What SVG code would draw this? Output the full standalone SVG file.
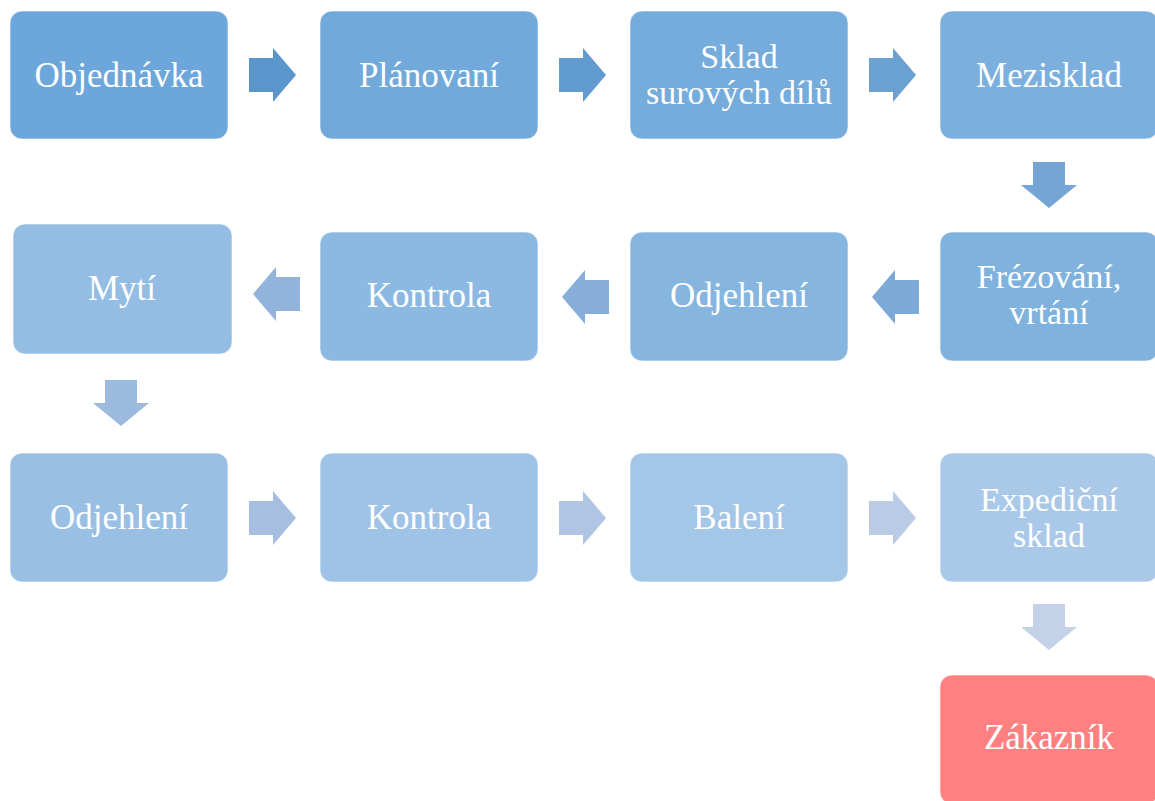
<svg xmlns="http://www.w3.org/2000/svg" width="1155" height="801" viewBox="0 0 1155 801">
  <style>
    .box { stroke: #ffffff; stroke-width: 1; stroke-opacity: 0.6; }
    .lbl { font-family: "Liberation Serif", "Times New Roman", serif; font-size: 35px; fill: #ffffff; text-anchor: middle; }
    .lbl2 { font-family: "Liberation Serif", "Times New Roman", serif; font-size: 34px; fill: #ffffff; text-anchor: middle; }
  </style>
  <defs>
    <!-- block arrow shapes, placed at tail position / centre line -->
    <polygon id="arrR" points="0,-17 24,-17 24,-27 47,0 24,27 24,17 0,17"/>
    <polygon id="arrL" points="0,-17 -24,-17 -24,-27 -47,0 -24,27 -24,17 0,17"/>
    <polygon id="arrD" points="-16,0 16,0 16,23 28,23 0,46 -28,23 -16,23"/>
  </defs>
  <rect width="1155" height="801" fill="#ffffff"/>

  <!-- connectors -->
  <g id="connectors">
    <use href="#arrR" x="249" y="75" fill="#5A96CC"/>
    <use href="#arrR" x="559" y="75" fill="#629BCF"/>
    <use href="#arrR" x="869" y="75" fill="#6AA0D2"/>
    <use href="#arrD" x="1049" y="162" fill="#74A5D5"/>
    <use href="#arrL" x="919" y="297" fill="#7DA9D7"/>
    <use href="#arrL" x="609" y="297" fill="#87AED9"/>
    <use href="#arrL" x="300" y="294" fill="#92B4DC"/>
    <use href="#arrD" x="121" y="380" fill="#9CB9DE"/>
    <use href="#arrR" x="249" y="518" fill="#A6BFE1"/>
    <use href="#arrR" x="559" y="518" fill="#B0C5E3"/>
    <use href="#arrR" x="869" y="518" fill="#BACBE6"/>
    <use href="#arrD" x="1049" y="604" fill="#C4D2E9"/>
  </g>

  <g id="n1">
    <rect class="box" x="10" y="11" width="218" height="128" rx="12" fill="#6CA6DA"/>
    <text class="lbl" x="119" y="87">Objednávka</text>
  </g>
  <g id="n2">
    <rect class="box" x="320" y="11" width="218" height="128" rx="12" fill="#71A9DB"/>
    <text class="lbl" x="429" y="87">Plánovaní</text>
  </g>
  <g id="n3">
    <rect class="box" x="630" y="11" width="218" height="128" rx="12" fill="#76ACDC"/>
    <text class="lbl2" x="739" y="68">Sklad</text>
    <text class="lbl2" x="739" y="104">surových dílů</text>
  </g>
  <g id="n4">
    <rect class="box" x="940" y="11" width="218" height="128" rx="12" fill="#7BAFDE"/>
    <text class="lbl" x="1049" y="87">Mezisklad</text>
  </g>
  <g id="n5">
    <rect class="box" x="940" y="232" width="218" height="129" rx="12" fill="#80B2DE"/>
    <text class="lbl2" x="1049" y="288">Frézování,</text>
    <text class="lbl2" x="1049" y="324">vrtání</text>
  </g>
  <g id="n6">
    <rect class="box" x="630" y="232" width="218" height="129" rx="12" fill="#86B5E0"/>
    <text class="lbl" x="739" y="307">Odjehlení</text>
  </g>
  <g id="n7">
    <rect class="box" x="320" y="232" width="218" height="129" rx="12" fill="#8CB9E1"/>
    <text class="lbl" x="429" y="307">Kontrola</text>
  </g>
  <g id="n8">
    <rect class="box" x="13" y="224" width="219" height="130" rx="12" fill="#93BDE3"/>
    <text class="lbl" x="122" y="300">Mytí</text>
  </g>
  <g id="n9">
    <rect class="box" x="10" y="453" width="218" height="129" rx="12" fill="#99C0E4"/>
    <text class="lbl" x="119" y="529">Odjehlení</text>
  </g>
  <g id="n10">
    <rect class="box" x="320" y="453" width="218" height="129" rx="12" fill="#9FC3E6"/>
    <text class="lbl" x="429" y="529">Kontrola</text>
  </g>
  <g id="n11">
    <rect class="box" x="630" y="453" width="218" height="129" rx="12" fill="#A4C6E7"/>
    <text class="lbl" x="739" y="529">Balení</text>
  </g>
  <g id="n12">
    <rect class="box" x="940" y="453" width="218" height="129" rx="12" fill="#AAC9E8"/>
    <text class="lbl2" x="1049" y="511">Expediční</text>
    <text class="lbl2" x="1049" y="547">sklad</text>
  </g>
  <g id="n13">
    <rect class="box" x="940" y="675" width="218" height="129" rx="12" fill="#FF8080"/>
    <text class="lbl" x="1049" y="749">Zákazník</text>
  </g>
</svg>
